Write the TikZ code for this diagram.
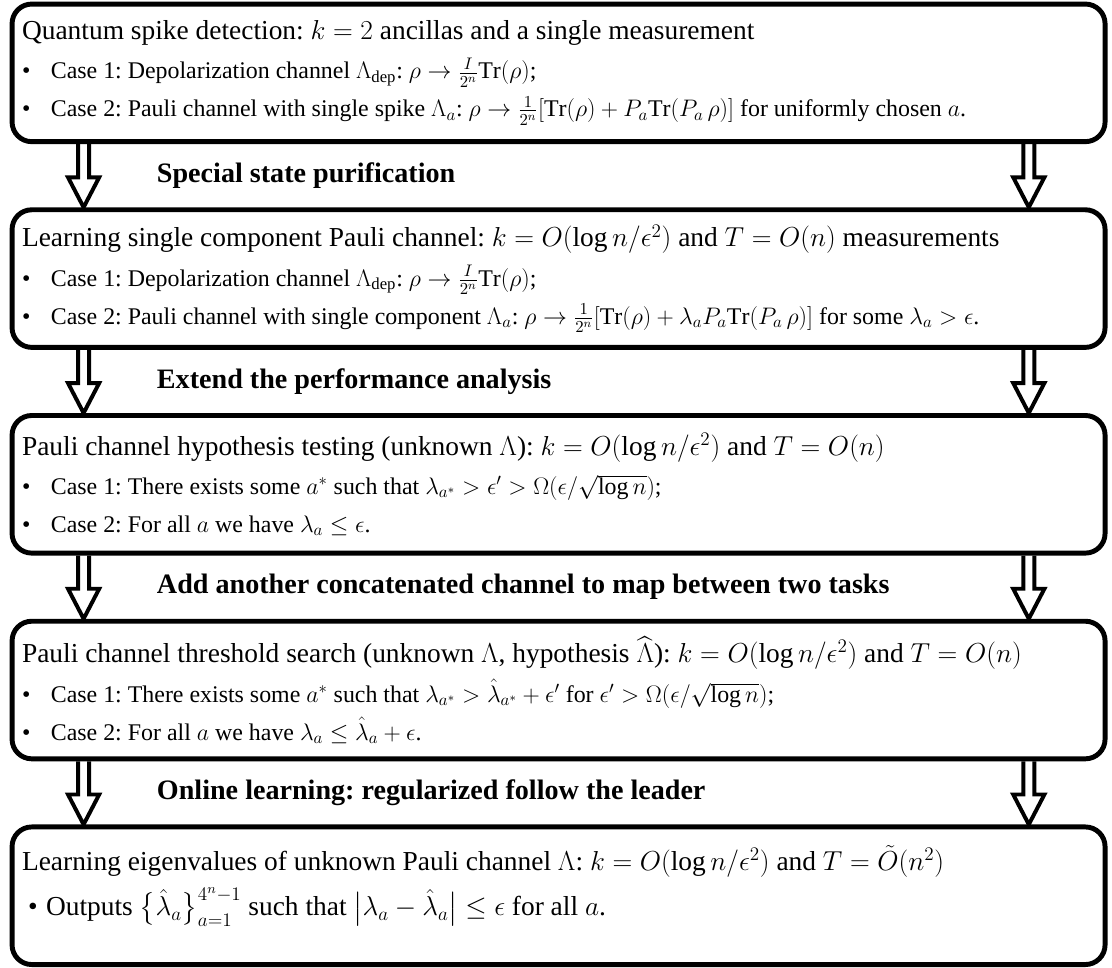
\RequirePackage{fix-cm}
\documentclass[tikz,border=0pt]{standalone}
\usepackage{amsmath,amssymb}
\usepackage{fontspec}
\setmainfont{Liberation Serif}
\usepackage{tikz}
\usetikzlibrary{positioning, calc}
\frenchspacing

% plain word spaces inside aligned nodes
\newcommand{\plainsp}{\spaceskip=0pt\xspaceskip=0pt\relax}
% bullet lines inside the boxes
\newcommand{\caseline}[1]{{\fontsize{17}{20}\selectfont\plainsp\makebox[0.72cm][l]{\textbullet}#1}}
\newcommand{\Tr}{\mathrm{Tr}}

\begin{document}
\begin{tikzpicture}[
  stage/.style={draw, line width=3.5pt, rounded corners=14pt, align=left,
                text width=26.825cm, inner xsep=0.25cm, minimum height=3.44cm,
                font=\fontsize{19.5}{23}\selectfont, execute at begin node=\plainsp},
  hop/.style={font=\fontsize{20}{24}\selectfont\bfseries, anchor=west},
  hollow/.style={line width=2.8pt, line join=miter,
    to path={let \p1=(\tikztostart), \p2=(\tikztotarget) in
      (\x1-0.1375cm,\y1) -- (\x1-0.1375cm,\y2+0.75cm) -- (\x1-0.39cm,\y2+0.75cm)
      -- (\x2,\y2) -- (\x1+0.39cm,\y2+0.75cm) -- (\x1+0.1375cm,\y2+0.75cm)
      -- (\x1+0.1375cm,\y1)}},
  node distance=1.58cm,
]
\useasboundingbox (0,0) rectangle (27.8,-24.2);

\node[stage, anchor=north west] (spike) at (0.24,-0.04) {%
  Quantum spike detection: $k=2$ ancillas and a single measurement\\[5pt]
  \caseline{Case 1: Depolarization channel $\Lambda_{\mathrm{dep}}$: $\rho\to\frac{I}{2^n}\Tr(\rho)$;}\\[4pt]
  \caseline{Case 2: Pauli channel with single spike $\Lambda_a$: $\rho\to\frac{1}{2^n}[\Tr(\rho)+P_a\Tr(P_a\,\rho)]$ for uniformly chosen $a$.}};
\node[stage, below=of spike] (single) {%
  Learning single component Pauli channel: $k=O(\log n/\epsilon^2)$ and $T=O(n)$ measurements\\[5pt]
  \caseline{Case 1: Depolarization channel $\Lambda_{\mathrm{dep}}$: $\rho\to\frac{I}{2^n}\Tr(\rho)$;}\\[4pt]
  \caseline{Case 2: Pauli channel with single component $\Lambda_a$: $\rho\to\frac{1}{2^n}[\Tr(\rho)+\lambda_aP_a\Tr(P_a\,\rho)]$ for some $\lambda_a>\epsilon$.}};
\node[stage, below=of single] (hypo) {%
  Pauli channel hypothesis testing (unknown $\Lambda$): $k=O(\log n/\epsilon^2)$ and $T=O(n)$\\[5pt]
  \caseline{Case 1: There exists some $a^*$ such that $\lambda_{a^*}>\epsilon'>\Omega(\epsilon/\sqrt{\log n})$;}\\[4pt]
  \caseline{Case 2: For all $a$ we have $\lambda_a\le\epsilon$.}};
\node[stage, below=of hypo] (thresh) {%
  Pauli channel threshold search (unknown $\Lambda$, hypothesis $\widehat{\Lambda}$): $k=O(\log n/\epsilon^2)$ and $T=O(n)$\\[5pt]
  \caseline{Case 1: There exists some $a^*$ such that $\lambda_{a^*}>\hat{\lambda}_{a^*}+\epsilon'$ for $\epsilon'>\Omega(\epsilon/\sqrt{\log n})$;}\\[4pt]
  \caseline{Case 2: For all $a$ we have $\lambda_a\le\hat{\lambda}_a+\epsilon$.}};
\node[stage, below=of thresh] (eigen) {%
  Learning eigenvalues of unknown Pauli channel $\Lambda$: $k=O(\log n/\epsilon^2)$ and $T=\tilde{O}(n^2)$\\[6pt]
  \hspace*{0.15cm}\makebox[0.45cm][l]{\textbullet}Outputs $\bigl\{\hat{\lambda}_a\bigr\}_{a=1}^{4^n-1}$ such that $\bigl|\lambda_a-\hat{\lambda}_a\bigr|\le\epsilon$ for all $a$.\rule[-0.75cm]{0pt}{0pt}};

% hollow arrows on both sides
\coordinate (lx) at (2.09,0);
\coordinate (rx) at (25.72,0);
\foreach \a/\b in {spike/single, single/hypo, hypo/thresh, thresh/eigen} {
  \draw[hollow] (\a.south -| lx) to (\b.north -| lx);
  \draw[hollow] (\a.south -| rx) to (\b.north -| rx);
}

\node[hop] (purify) at ($(spike.south west)!.5!(single.north west)+(3.56,0)$) {Special state purification};
\node[hop] (extend) at ($(single.south west)!.5!(hypo.north west)+(3.56,0)$) {Extend the performance analysis};
\node[hop] (concat) at ($(hypo.south west)!.5!(thresh.north west)+(3.56,0)$) {Add another concatenated channel to map between two tasks};
\node[hop] (online) at ($(thresh.south west)!.5!(eigen.north west)+(3.56,0)$) {Online learning: regularized follow the leader};
\end{tikzpicture}
\end{document}
